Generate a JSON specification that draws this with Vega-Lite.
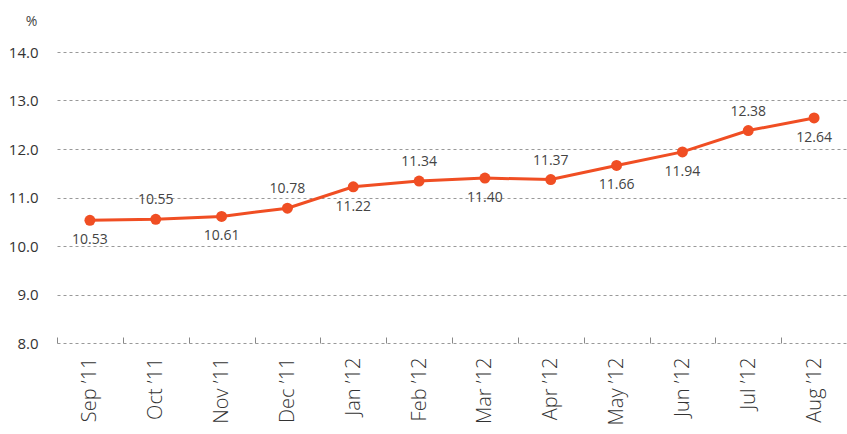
{
  "$schema": "https://vega.github.io/schema/vega-lite/v6.json",
  "width": 790,
  "height": 291,
  "autosize": "none",
  "padding": {"left": 57, "top": 52, "right": 0, "bottom": 91},
  "background": "white",
  "config": {"view": {"stroke": null}, "font": "Open Sans"},
  "data": {"values": [
    {"month": "Sep ’11", "rate": 10.53},
    {"month": "Oct ’11", "rate": 10.55},
    {"month": "Nov ’11", "rate": 10.61},
    {"month": "Dec ’11", "rate": 10.78},
    {"month": "Jan ’12", "rate": 11.22},
    {"month": "Feb ’12", "rate": 11.34},
    {"month": "Mar ’12", "rate": 11.40},
    {"month": "Apr ’12", "rate": 11.37},
    {"month": "May ’12", "rate": 11.66},
    {"month": "Jun ’12", "rate": 11.94},
    {"month": "Jul ’12", "rate": 12.38},
    {"month": "Aug ’12", "rate": 12.64}
  ]},
  "encoding": {
    "x": {"field": "month", "type": "nominal", "sort": null,
      "scale": {"paddingInner": 0, "paddingOuter": 0},
      "axis": {"title": null, "labelAngle": -90, "labelAlign": "right", "labelBaseline": "middle",
        "labelFontSize": 20, "labelFontWeight": 300, "labelColor": "#333", "labelPadding": 20, "domain": false,
        "tickBand": "extent", "tickSize": -6, "tickColor": "#888"}},
    "y": {"field": "rate", "type": "quantitative",
      "scale": {"domain": [8, 14], "nice": false, "zero": false},
      "axis": {"values": [8, 9, 10, 11, 12, 13, 14], "format": ".1f", "domain": false, "ticks": false,
        "labelPadding": 19, "labelFontSize": 15, "labelColor": "#333",
        "gridDash": [3, 3], "gridColor": "#999", "gridWidth": 1,
        "title": "%", "titleAngle": 0, "titleFontSize": 14, "titleFontWeight": "normal", "titleColor": "#444",
        "titleX": -26, "titleY": -24, "titleAlign": "center"}}
  },
  "layer": [
    {"mark": {"type": "line", "color": "#F04E23", "strokeWidth": 3}},
    {"mark": {"type": "point", "filled": true, "color": "#F04E23", "size": 120, "opacity": 1}},
    {"transform": [{"filter": "indexof(['Oct ’11','Dec ’11','Feb ’12','Apr ’12','Jul ’12'], datum.month) >= 0"}],
      "mark": {"type": "text", "dy": -19, "fontSize": 14, "color": "#444"},
      "encoding": {"text": {"field": "rate", "type": "quantitative", "format": ".2f"}}},
    {"transform": [{"filter": "indexof(['Oct ’11','Dec ’11','Feb ’12','Apr ’12','Jul ’12'], datum.month) < 0"}],
      "mark": {"type": "text", "dy": 20, "fontSize": 14, "color": "#444"},
      "encoding": {"text": {"field": "rate", "type": "quantitative", "format": ".2f"}}}
  ]
}
